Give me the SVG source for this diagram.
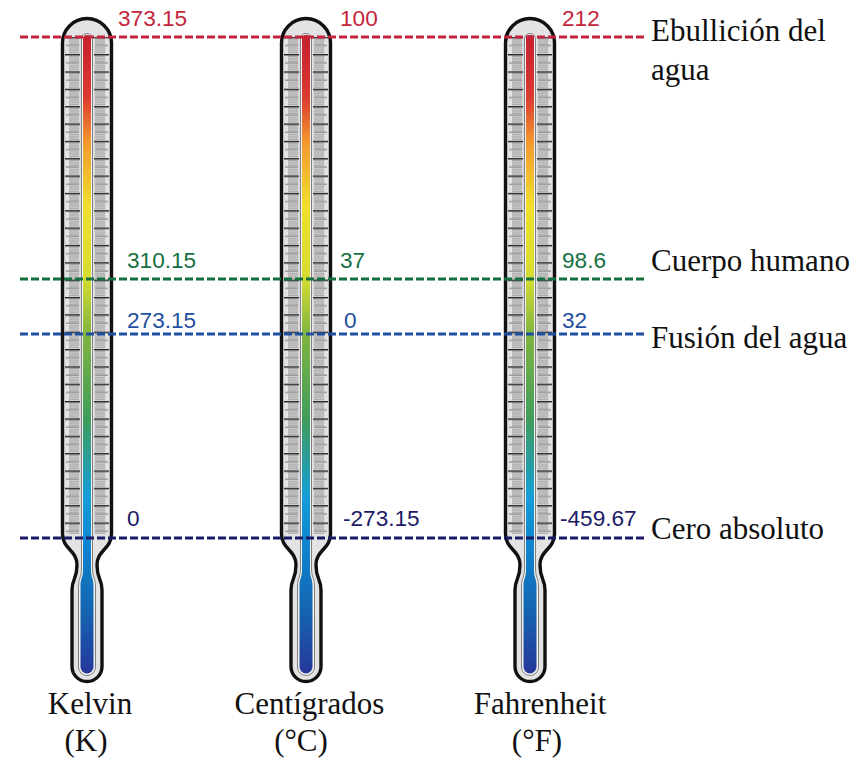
<svg xmlns="http://www.w3.org/2000/svg" width="867" height="759" viewBox="0 0 867 759">
<style>
.sans{font-family:"Liberation Sans",Arial,sans-serif;font-size:22.6px}
.serif{font-family:"Liberation Serif","Times New Roman",serif;font-size:31px;fill:#111}
.dash{fill:none;stroke-width:3;stroke-dasharray:8 3}
.red{fill:#c4243c}.grn{fill:#14703f}.blu{fill:#1f4fa0}.nvy{fill:#1b1a66}
</style>
<defs>
<linearGradient id="merc" gradientUnits="userSpaceOnUse" x1="0" y1="34" x2="0" y2="676">
<stop offset="0" stop-color="#c3202f"/><stop offset=".1" stop-color="#dc3b30"/><stop offset=".17" stop-color="#f39a2e"/><stop offset=".27" stop-color="#f0e02c"/><stop offset=".38" stop-color="#d5dc30"/><stop offset=".47" stop-color="#7fb441"/><stop offset=".6" stop-color="#3f9c5a"/><stop offset=".72" stop-color="#149ed8"/><stop offset=".8" stop-color="#0f83cf"/><stop offset=".9" stop-color="#1464b0"/><stop offset="1" stop-color="#27359a"/>
</linearGradient>
<pattern id="scaleL" patternUnits="userSpaceOnUse" x="0" y="36.7" width="20" height="17.35">
<g fill="#a6a6a6"><rect x="7" y="1.8" width="10" height="1"/><rect x="7" y="3.5" width="10" height="1"/><rect x="7" y="5.2" width="10" height="1"/><rect x="7" y="6.9" width="10" height="1"/><rect x="7" y="10.4" width="10" height="1"/><rect x="7" y="12.1" width="10" height="1"/><rect x="7" y="13.8" width="10" height="1"/><rect x="7" y="15.5" width="10" height="1"/></g>
<rect x="4" y="8.3" width="13" height="1" fill="#777"/>
<rect x="3" y="0" width="15" height="1.4" fill="#222"/>
</pattern>
<pattern id="scaleR" patternUnits="userSpaceOnUse" x="0" y="36.7" width="20" height="17.35">
<g fill="#a6a6a6"><rect x="3" y="1.8" width="10" height="1"/><rect x="3" y="3.5" width="10" height="1"/><rect x="3" y="5.2" width="10" height="1"/><rect x="3" y="6.9" width="10" height="1"/><rect x="3" y="10.4" width="10" height="1"/><rect x="3" y="12.1" width="10" height="1"/><rect x="3" y="13.8" width="10" height="1"/><rect x="3" y="15.5" width="10" height="1"/></g>
<rect x="3" y="8.3" width="13" height="1" fill="#777"/>
<rect x="2" y="0" width="15" height="1.4" fill="#222"/>
</pattern>
<!-- Thermometer drawn around x=0 -->
<g id="thermo">
<path d="M-24.500 43A24.500 24.500 0 0 1 24.500 43V534C24.500 549 10 550 10 565C10 580 15 578 15 590V666.500A15 15 0 0 1 -15 666.500V590C-15 578 -10 580 -10 565C-10 550 -24.500 549 -24.500 534Z" fill="#e3e3e3" stroke="#111" stroke-width="3.400"/>
<rect x="-18" y="37" width="12" height="497" fill="#d0d0d0" opacity=".5"/>
<rect x="7" y="37" width="12" height="497" fill="#d0d0d0" opacity=".5"/>
<g transform="translate(-25 0)"><rect x="0" y="37" width="20" height="497" fill="url(#scaleL)"/></g>
<g transform="translate(5 0)"><rect x="0" y="37" width="20" height="497" fill="url(#scaleR)"/></g>
<path d="M-5.500 39A5.500 5.500 0 0 1 5.500 39V568C5.500 578 8.500 578 8.500 586V667A8.500 8.500 0 0 1 -8.500 667V586C-8.500 578 -5.500 578 -5.500 568Z" fill="#f2f2f2" stroke="#7f7f7f" stroke-width="1"/>
<path d="M-4 39A4 4 0 0 1 4 39V570C4 578 6.500 578 6.500 586V667A6.500 6.500 0 0 1 -6.500 667V586C-6.500 578 -4 578 -4 570Z" fill="url(#merc)"/>
</g>
</defs>
<rect width="867" height="759" fill="#fff"/>
<g id="thermometer-kelvin"><use href="#thermo" x="87"/>
<text class="sans red" x="118" y="26">373.15</text><text class="sans grn" x="127" y="268">310.15</text><text class="sans blu" x="127" y="328">273.15</text><text class="sans nvy" x="127" y="526">0</text>
<text class="serif" x="90" y="714" text-anchor="middle">Kelvin</text><text class="serif" x="86" y="751" text-anchor="middle">(K)</text></g>
<g id="thermometer-celsius"><use href="#thermo" x="306"/>
<text class="sans red" x="340" y="26">100</text><text class="sans grn" x="340" y="268">37</text><text class="sans blu" x="344" y="328">0</text><text class="sans nvy" x="343" y="526">-273.15</text>
<text class="serif" x="309.500" y="714" text-anchor="middle">Centígrados</text><text class="serif" x="301" y="751" text-anchor="middle">(°C)</text></g>
<g id="thermometer-fahrenheit"><use href="#thermo" x="530"/>
<text class="sans red" x="562" y="26">212</text><text class="sans grn" x="562" y="268">98.6</text><text class="sans blu" x="562" y="328">32</text><text class="sans nvy" x="560" y="526">-459.67</text>
<text class="serif" x="540" y="714" text-anchor="middle">Fahrenheit</text><text class="serif" x="537" y="751" text-anchor="middle">(°F)</text></g>
<g id="connectors">
<path class="dash" stroke="#c4243c" d="M20 37H646"/>
<path class="dash" stroke="#14703f" d="M20 279H646"/>
<path class="dash" stroke="#1f4fa0" d="M20 334H646"/>
<path class="dash" stroke="#1b1a66" d="M20 538H646"/>
</g>
<g id="labels">
<text class="serif" x="651" y="41">Ebullición del</text><text class="serif" x="651" y="80">agua</text>
<text class="serif" x="651" y="271">Cuerpo humano</text>
<text class="serif" x="651" y="348">Fusión del agua</text>
<text class="serif" x="651" y="539">Cero absoluto</text>
</g>
</svg>
